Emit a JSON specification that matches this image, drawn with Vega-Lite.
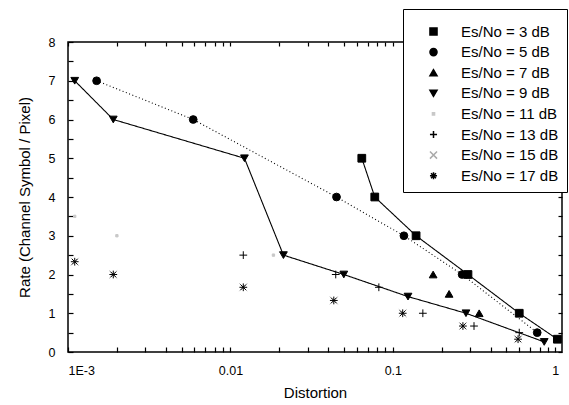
{
  "$schema": "https://vega.github.io/schema/vega-lite/v6.json",
  "autosize": {"type": "none"},
  "width": 494,
  "height": 310,
  "padding": {"left": 68, "top": 42, "right": 7, "bottom": 53},
  "background": "white",
  "config": {
    "view": {"stroke": "black", "strokeWidth": 1.5},
    "font": "Liberation Sans",
    "axis": {"domainColor": "black", "tickColor": "black", "labelColor": "black", "titleColor": "black", "labelFont": "Liberation Sans", "titleFont": "Liberation Sans", "labelFontSize": 12.5, "titleFontSize": 15, "titleFontWeight": "normal", "grid": false, "domainWidth": 1.5, "tickWidth": 1.2},
    "legend": {"titleFontSize": 4, "titleColor": "white", "titlePadding": 3, "orient": "none", "legendX": 335, "legendY": -33, "strokeColor": "black", "fillColor": "white",
               "padding": 8, "labelFont": "Liberation Sans", "labelFontSize": 15, "labelColor": "black", "symbolSize": 50,
               "rowPadding": 4.6, "labelOffset": 20, "symbolOffset": 15, "labelLimit": 200}
  },
  "data": {"values": [
    {"snr": "Es/No = 3 dB", "d": 0.0644, "r": 5},
    {"snr": "Es/No = 3 dB", "d": 0.0774, "r": 4},
    {"snr": "Es/No = 3 dB", "d": 0.139, "r": 3},
    {"snr": "Es/No = 3 dB", "d": 0.29, "r": 2},
    {"snr": "Es/No = 3 dB", "d": 0.6, "r": 1},
    {"snr": "Es/No = 3 dB", "d": 1.03, "r": 0.33},
    {"snr": "Es/No = 5 dB", "d": 0.0015, "r": 7},
    {"snr": "Es/No = 5 dB", "d": 0.0059, "r": 6},
    {"snr": "Es/No = 5 dB", "d": 0.045, "r": 4},
    {"snr": "Es/No = 5 dB", "d": 0.117, "r": 3},
    {"snr": "Es/No = 5 dB", "d": 0.267, "r": 2},
    {"snr": "Es/No = 5 dB", "d": 0.774, "r": 0.5},
    {"snr": "Es/No = 7 dB", "d": 0.177, "r": 2},
    {"snr": "Es/No = 7 dB", "d": 0.222, "r": 1.5},
    {"snr": "Es/No = 7 dB", "d": 0.34, "r": 1},
    {"snr": "Es/No = 9 dB", "d": 0.0011, "r": 7},
    {"snr": "Es/No = 9 dB", "d": 0.0019, "r": 6},
    {"snr": "Es/No = 9 dB", "d": 0.0122, "r": 5},
    {"snr": "Es/No = 9 dB", "d": 0.0212, "r": 2.5},
    {"snr": "Es/No = 9 dB", "d": 0.0499, "r": 2},
    {"snr": "Es/No = 9 dB", "d": 0.124, "r": 1.43},
    {"snr": "Es/No = 9 dB", "d": 0.282, "r": 1},
    {"snr": "Es/No = 9 dB", "d": 0.855, "r": 0.26},
    {"snr": "Es/No = 11 dB", "d": 0.0011, "r": 3.5},
    {"snr": "Es/No = 11 dB", "d": 0.002, "r": 3},
    {"snr": "Es/No = 11 dB", "d": 0.0184, "r": 2.5},
    {"snr": "Es/No = 13 dB", "d": 0.012, "r": 2.5},
    {"snr": "Es/No = 13 dB", "d": 0.0445, "r": 2},
    {"snr": "Es/No = 13 dB", "d": 0.082, "r": 1.67},
    {"snr": "Es/No = 13 dB", "d": 0.153, "r": 1},
    {"snr": "Es/No = 13 dB", "d": 0.316, "r": 0.67},
    {"snr": "Es/No = 13 dB", "d": 0.6, "r": 0.5},
    {"snr": "Es/No = 15 dB", "d": 0.0011, "r": 2.33},
    {"snr": "Es/No = 15 dB", "d": 0.0019, "r": 2},
    {"snr": "Es/No = 15 dB", "d": 0.012, "r": 1.67},
    {"snr": "Es/No = 15 dB", "d": 0.0433, "r": 1.33},
    {"snr": "Es/No = 15 dB", "d": 0.115, "r": 1},
    {"snr": "Es/No = 15 dB", "d": 0.27, "r": 0.67},
    {"snr": "Es/No = 15 dB", "d": 0.59, "r": 0.33},
    {"snr": "Es/No = 17 dB", "d": 0.0011, "r": 2.33},
    {"snr": "Es/No = 17 dB", "d": 0.0019, "r": 2},
    {"snr": "Es/No = 17 dB", "d": 0.012, "r": 1.67},
    {"snr": "Es/No = 17 dB", "d": 0.0433, "r": 1.33},
    {"snr": "Es/No = 17 dB", "d": 0.115, "r": 1},
    {"snr": "Es/No = 17 dB", "d": 0.27, "r": 0.67},
    {"snr": "Es/No = 17 dB", "d": 0.59, "r": 0.33}
  ]},
  "resolve": {"axis": {"x": "independent", "y": "independent"}},
  "layer": [
    {
      "transform": [{"filter": "datum.snr == 'Es/No = 3 dB' || datum.snr == 'Es/No = 5 dB' || datum.snr == 'Es/No = 9 dB'"}],
      "mark": {"type": "line", "color": "black", "strokeWidth": 1.1},
      "encoding": {
        "x": {"field": "d", "type": "quantitative", "scale": {"type": "log", "domain": [0.001, 1.1], "nice": false},
              "axis": {"orient": "top", "labels": false, "title": null, "domain": false,
                       "values": [0.001,0.002,0.003,0.004,0.005,0.006,0.007,0.008,0.009,0.01,0.02,0.03,0.04,0.05,0.06,0.07,0.08,0.09,0.1,0.2,0.3,0.4,0.5,0.6,0.7,0.8,0.9,1],
                       "tickSize": -4}},
        "y": {"field": "r", "type": "quantitative", "scale": {"domain": [0, 8], "nice": false},
              "axis": {"orient": "right", "labels": false, "title": null, "domain": false,
                       "values": [0,0.5,1,1.5,2,2.5,3,3.5,4,4.5,5,5.5,6,6.5,7,7.5,8],
                       "tickSize": -4}},
        "detail": {"field": "snr"},
        "strokeDash": {"field": "snr", "type": "nominal", "legend": null,
                       "scale": {"domain": ["Es/No = 3 dB", "Es/No = 5 dB", "Es/No = 9 dB"], "range": [[1, 0], [1, 2.5], [1, 0]]}}
      }
    },
    {
      "mark": {"type": "point", "filled": true, "strokeWidth": 1, "opacity": 1},
      "encoding": {
        "x": {"field": "d", "type": "quantitative",
              "axis": {"orient": "bottom", "title": "Distortion", "titlePadding": 9, "domain": false, "labelPadding": 17,
                       "values": [0.001,0.002,0.003,0.004,0.005,0.006,0.007,0.008,0.009,0.01,0.02,0.03,0.04,0.05,0.06,0.07,0.08,0.09,0.1,0.2,0.3,0.4,0.5,0.6,0.7,0.8,0.9,1],
                       "labelExpr": "datum.value == 0.001 ? '1E-3' : (datum.value == 0.01 ? '0.01' : (datum.value == 0.1 ? '0.1' : (datum.value == 1 ? '1' : '')))",
                       "tickSize": -5}},
        "y": {"field": "r", "type": "quantitative",
              "axis": {"orient": "left", "title": "Rate (Channel Symbol / Pixel)", "titlePadding": 16, "domain": false, "labelPadding": 18,
                       "values": [0,0.5,1,1.5,2,2.5,3,3.5,4,4.5,5,5.5,6,6.5,7,7.5,8],
                       "labelExpr": "datum.value % 1 == 0 ? format(datum.value, 'd') : ''",
                       "tickSize": -5}},
        "shape": {"field": "snr", "type": "nominal", "title": ".",
                  "scale": {"domain": ["Es/No = 3 dB", "Es/No = 5 dB", "Es/No = 7 dB", "Es/No = 9 dB", "Es/No = 11 dB", "Es/No = 13 dB", "Es/No = 15 dB", "Es/No = 17 dB"],
                            "range": ["square", "circle", "triangle-up", "triangle-down", "M-0.3,-0.3H0.3V0.3H-0.3Z", "M-1,0H1M0,-1V1", "M-1,-1L1,1M-1,1L1,-1", "M-1,0H1M0,-1V1M-0.7,-0.7L0.7,0.7M-0.7,0.7L0.7,-0.7"]}},
        "fill": {"field": "snr", "type": "nominal", "title": ".",
                 "scale": {"domain": ["Es/No = 3 dB", "Es/No = 5 dB", "Es/No = 7 dB", "Es/No = 9 dB", "Es/No = 11 dB", "Es/No = 13 dB", "Es/No = 15 dB", "Es/No = 17 dB"],
                           "range": ["black", "black", "black", "black", "#c8c8c8", "black", "#aaaaaa", "black"]}},
        "stroke": {"field": "snr", "type": "nominal", "title": ".",
                   "scale": {"domain": ["Es/No = 3 dB", "Es/No = 5 dB", "Es/No = 7 dB", "Es/No = 9 dB", "Es/No = 11 dB", "Es/No = 13 dB", "Es/No = 15 dB", "Es/No = 17 dB"],
                             "range": ["black", "black", "black", "black", "#c8c8c8", "black", "#aaaaaa", "black"]}},
        "size": {"value": 60}
      }
    }
  ]
}
